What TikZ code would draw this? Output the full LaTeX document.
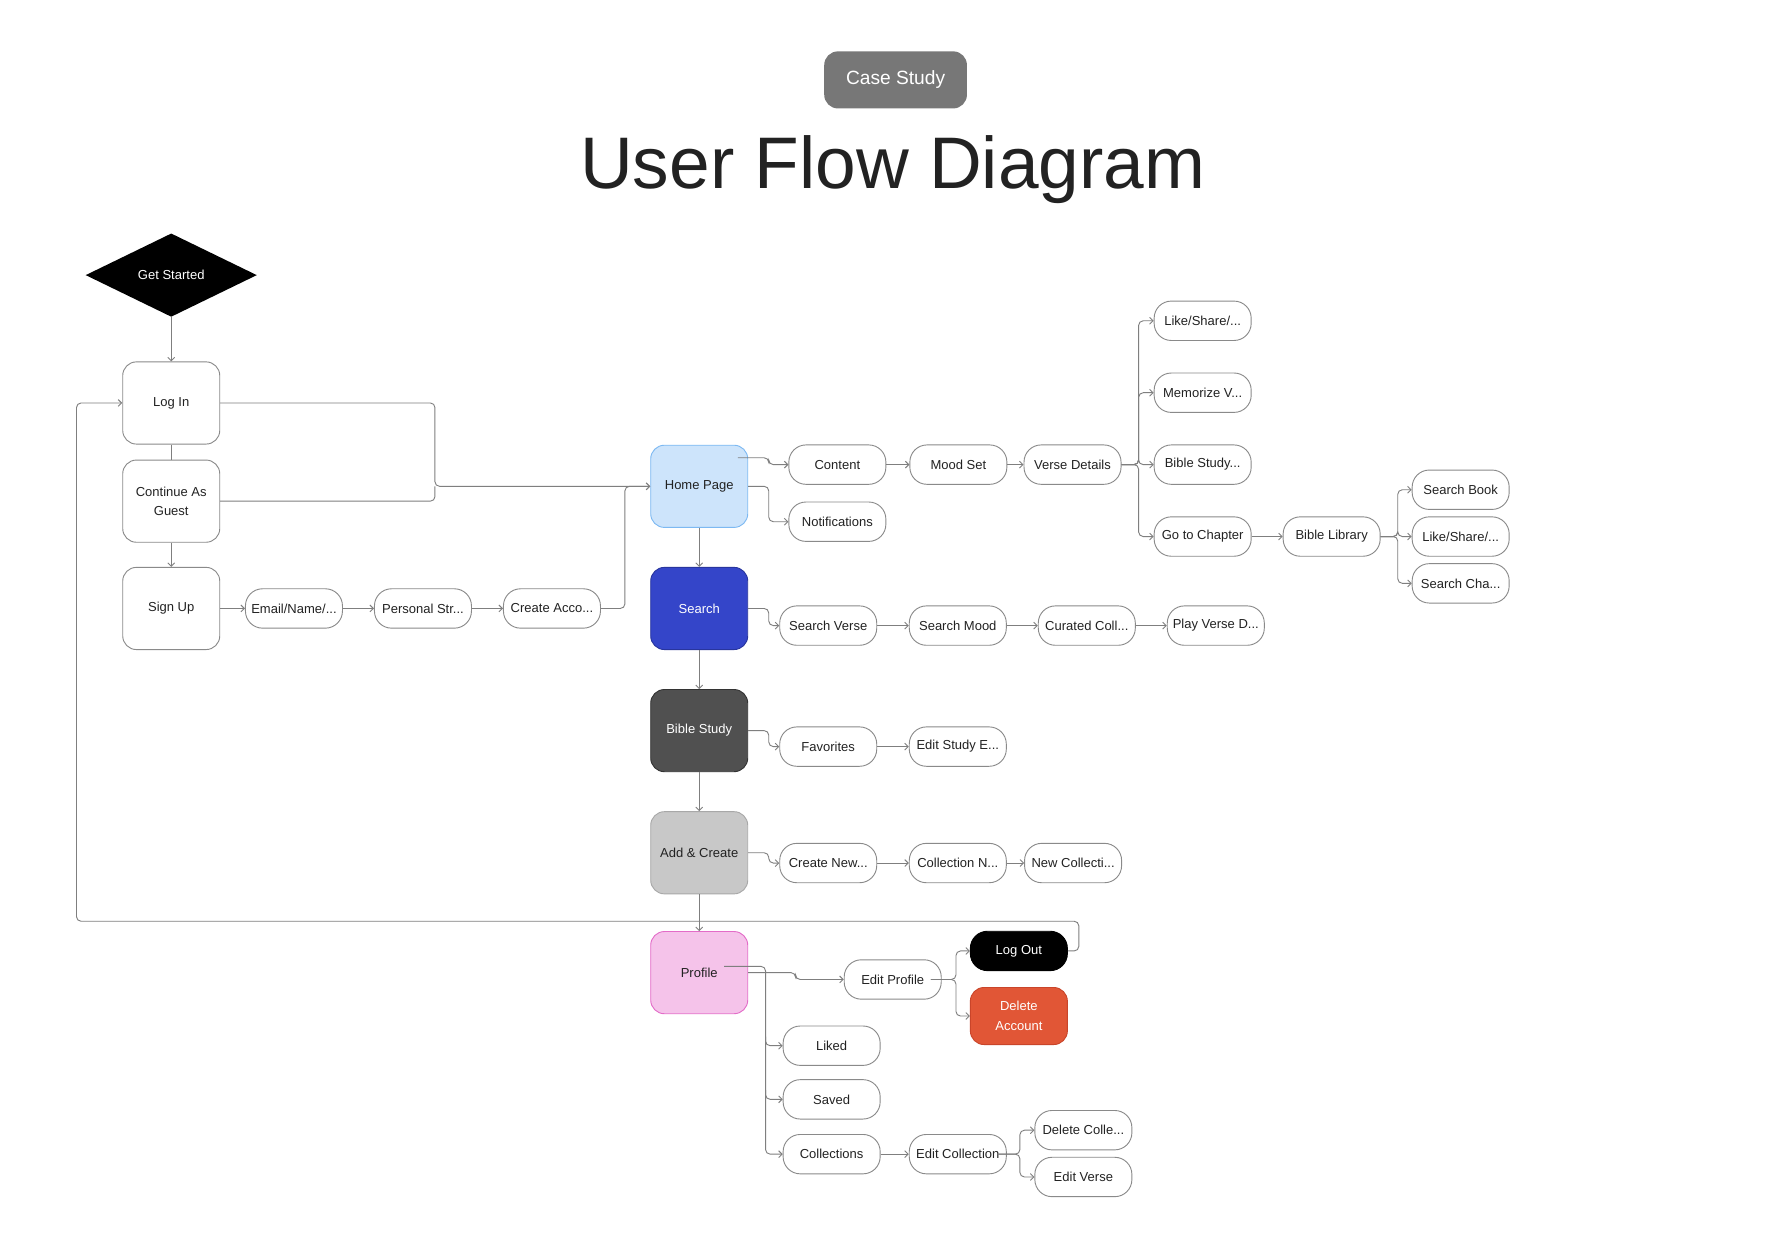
\documentclass[tikz,border=0pt]{standalone}
\usepackage{fontspec}
\setmainfont{Liberation Sans}
\usetikzlibrary{shapes.geometric,arrows.meta}

\definecolor{linegray}{HTML}{7F7F7F}
\definecolor{boxline}{HTML}{8A8A8A}
\definecolor{ink}{HTML}{222222}
\definecolor{homefill}{HTML}{CDE4FB}
\definecolor{homeline}{HTML}{7DB9F2}
\definecolor{searchfill}{HTML}{3445C9}
\definecolor{searchline}{HTML}{28359E}
\definecolor{studyfill}{HTML}{505050}
\definecolor{studyline}{HTML}{333333}
\definecolor{addfill}{HTML}{C8C8C8}
\definecolor{addline}{HTML}{A8A8A8}
\definecolor{proffill}{HTML}{F5C3EA}
\definecolor{profline}{HTML}{E36CC8}
\definecolor{delfill}{HTML}{E15636}
\definecolor{delline}{HTML}{C9452A}
\definecolor{tagfill}{HTML}{777777}

\newcommand{\nodefont}{\fontsize{11.4}{17}\selectfont}

\tikzset{
  bigbox/.style={draw=boxline, line width=0.8pt, rounded corners=12pt,
    minimum width=85pt, minimum height=72pt, inner sep=0pt,
    align=center, text=ink, font=\nodefont},
  pill/.style={draw=boxline, line width=0.8pt, rounded corners=15pt,
    minimum width=85pt, minimum height=34.5pt, inner sep=0pt,
    align=center, text=ink, font=\nodefont, fill=white},
  conn/.style={draw=linegray, line width=0.8pt, rounded corners=4pt},
  link/.style={conn, -{Straight Barb[length=3pt,width=6pt]}},
}

\begin{document}
\begin{tikzpicture}[x=1pt,y=-1pt]
\useasboundingbox[fill=white] (0,0) rectangle (1568,1086);

% heading
\node[fill=tagfill, rounded corners=12pt, minimum width=125pt, minimum height=50pt,
  inner sep=0pt, text=white, font=\fontsize{16.8}{20}\selectfont] (tag) at (784.5,70) {Case Study};
\node[anchor=base, text=ink, font=\fontsize{64}{64}\selectfont] (title) at (782,165) {User Flow Diagram};

% entry
\node[diamond, fill=black, minimum width=150pt, minimum height=73pt, inner sep=0pt,
  text=white, font=\nodefont] (gs) at (150,241) {Get Started};
\node[bigbox] (login) at (150,353) {Log In};
\node[bigbox] (guest) at (150,439) {Continue As\\Guest};
\node[bigbox] (signup) at (150,533) {Sign Up};
\node[pill] (email) at (257.5,533) {Email/Name/...};
\node[pill] (personal) at (370.5,533) {Personal Str...};
\node[pill] (createacc) at (483.5,533) {Create Acco...};

% main tabs
\node[bigbox, fill=homefill, draw=homeline] (home) at (612.5,426) {Home Page};
\node[bigbox, fill=searchfill, draw=searchline, text=white] (search) at (612.5,533) {Search};
\node[bigbox, fill=studyfill, draw=studyline, text=white] (bible) at (612.5,640) {Bible Study};
\node[bigbox, fill=addfill, draw=addline] (add) at (612.5,747) {Add \& Create};
\node[bigbox, fill=proffill, draw=profline] (profile) at (612.5,852) {Profile};

% home page branch
\node[pill] (content) at (733.5,407) {Content};
\node[pill] (notif) at (733.5,457) {Notifications};
\node[pill] (mood) at (839.5,407) {Mood Set};
\node[pill] (verse) at (939.5,407) {Verse Details};
\node[pill] (like1) at (1053.5,281) {Like/Share/...};
\node[pill] (memo) at (1053.5,344) {Memorize V...};
\node[pill] (study2) at (1053.5,407) {Bible Study...};
\node[pill] (chapter) at (1053.5,470) {Go to Chapter};
\node[pill] (library) at (1166.5,470) {Bible Library};
\node[pill] (sbook) at (1279.5,429) {Search Book};
\node[pill] (like2) at (1279.5,470) {Like/Share/...};
\node[pill] (scha) at (1279.5,511) {Search Cha...};

% search branch
\node[pill] (sverse) at (725.5,548) {Search Verse};
\node[pill] (smood) at (839,548) {Search Mood};
\node[pill] (curated) at (952,548) {Curated Coll...};
\node[pill] (play) at (1065,548) {Play Verse D...};

% bible study branch
\node[pill] (fav) at (725.5,654) {Favorites};
\node[pill] (editstudy) at (839,654) {Edit Study E...};

% add & create branch
\node[pill] (createnew) at (725.5,756) {Create New...};
\node[pill] (colln) at (839,756) {Collection N...};
\node[pill] (newcoll) at (940,756) {New Collecti...};

% profile branch
\node[pill] (editprof) at (782,858) {Edit Profile};
\node[pill, fill=black, draw=black, text=white] (logout) at (892.5,833) {Log Out};
\node[bigbox, fill=delfill, draw=delline, text=white, minimum height=50pt] (delacc) at (892.5,890) {Delete\\Account};
\node[pill] (liked) at (728.5,916) {Liked};
\node[pill] (saved) at (728.5,963) {Saved};
\node[pill] (colls) at (728.5,1011) {Collections};
\node[pill] (editcoll) at (839,1011) {Edit Collection};
\node[pill] (delcoll) at (949,990) {Delete Colle...};
\node[pill] (editverse) at (949,1031) {Edit Verse};

% junction points
\coordinate (merge) at (381,426);
\coordinate (loopR) at (945,807);
\coordinate (loopL) at (67,807);

% entry flow
\draw[link] (gs.south) -- (login.north);
\draw[conn] (login.south) -- (guest.north);
\draw[link] (guest.south) -- (signup.north);
\draw[link] (signup.east) -- (email.west);
\draw[link] (email) -- (personal);
\draw[link] (personal) -- (createacc);
\draw[link] (createacc.east) -- ++(21,0) |- (home.west);
\draw[link] (login.east) -| (merge) -- (home.west);
\draw[conn] (guest.east) -| (merge);

% tab column
\draw[link] (home.south) -- (search.north);
\draw[link] (search.south) -- (bible.north);
\draw[link] (bible.south) -- (add.north);
\draw[link] (add.south) -- (profile.north);

% home page
\draw[link] ([xshift=-9pt,yshift=25pt]home.east) -- ++(27,0) |- (content.west);
\draw[link] (home.east) -- ++(18,0) |- (notif.west);
\draw[link] (content) -- (mood);
\draw[link] (mood) -- (verse);
\foreach \t in {like1,memo,study2,chapter}
  \draw[link] (verse.east) -- ++(15,0) |- (\t.west);
\draw[link] (chapter) -- (library);
\foreach \t in {sbook,like2,scha}
  \draw[link] (library.east) -- ++(15,0) |- (\t.west);

% search
\draw[link] (search.east) -- ++(18,0) |- (sverse.west);
\draw[link] (sverse) -- (smood);
\draw[link] (smood) -- (curated);
\draw[link] (curated) -- (play);

% bible study
\draw[link] (bible.east) -- ++(18,0) |- (fav.west);
\draw[link] (fav) -- (editstudy);

% add & create
\draw[link] (add.east) -- ++(18,0) |- (createnew.west);
\draw[link] (createnew) -- (colln);
\draw[link] (colln) -- (newcoll);

% profile
\draw[link] ([xshift=-21pt,yshift=5.5pt]profile.east) -| ([xshift=-15pt]colls.west) -- (colls.west);
\draw[link] ([xshift=-15pt,yshift=8pt]liked.west) |- (liked.west);
\draw[link] ([xshift=-15pt,yshift=8pt]saved.west) |- (saved.west);
\draw[link] (profile.east) -- ++(41.5,0) |- (editprof.west);
\draw[link] ([xshift=-9.5pt]editprof.east) -- ++(22,0) |- (logout.west);
\draw[link] ([xshift=-9.5pt]editprof.east) -- ++(22,0) |- (delacc.west);
\draw[link] (colls) -- (editcoll);
\draw[link] ([xshift=-8pt]editcoll.east) -- ++(19.5,0) |- (delcoll.west);
\draw[link] ([xshift=-8pt]editcoll.east) -- ++(19.5,0) |- (editverse.west);

% log out returns to log in
\draw[link] (logout.east) -| (loopR) -- (loopL) |- (login.west);
\end{tikzpicture}
\end{document}
